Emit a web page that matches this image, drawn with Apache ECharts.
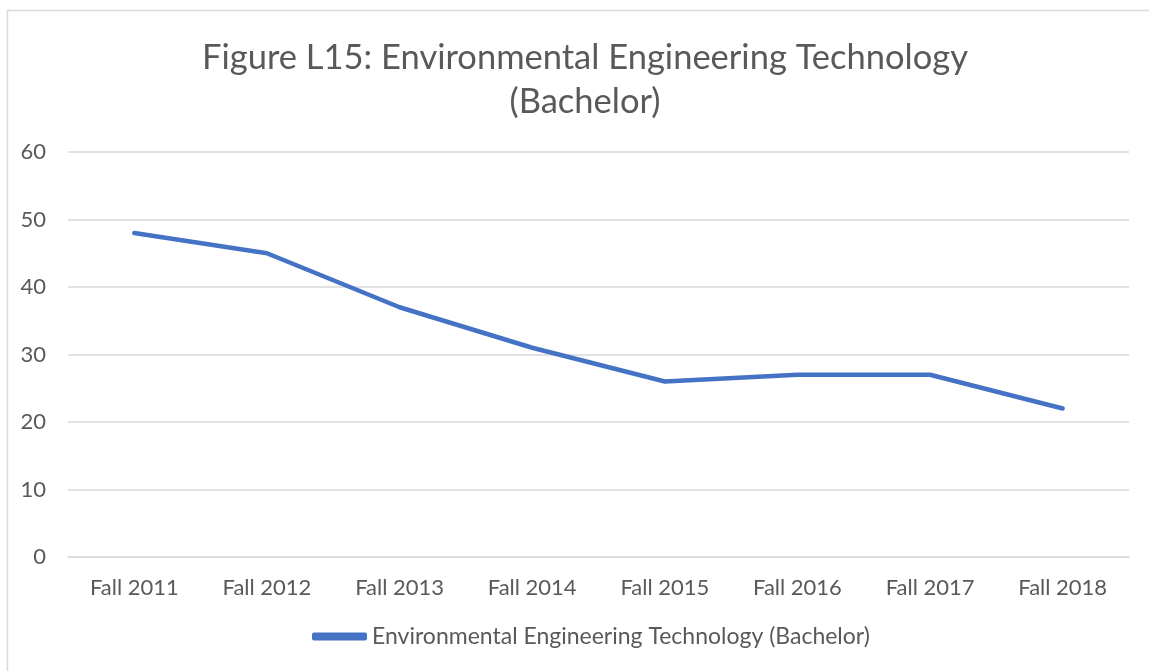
<!DOCTYPE html>
<html>
<head>
<meta charset="utf-8">
<script src="https://cdn.jsdelivr.net/npm/echarts@6/dist/echarts.min.js"></script>
<style>
    html, body { margin: 0; padding: 0; background: #fff; }
    #chart { width: 1149px; height: 671px; }
</style>
</head>
<body>
<div id="chart"></div>
<script>
var categories = ['Fall 2011', 'Fall 2012', 'Fall 2013', 'Fall 2014', 'Fall 2015', 'Fall 2016', 'Fall 2017', 'Fall 2018'];
var enrolment = [48, 45, 37, 31, 26, 27, 27, 22];
var seriesName = 'Environmental Engineering Technology (Bachelor)';

var chart = echarts.init(document.getElementById('chart'));
var option = {
    textStyle: { fontFamily: 'Lato' },
    graphic: [{
        type: 'rect',
        left: 5, top: 8,
        shape: { width: 1160, height: 680 },
        style: { fill: 'none', stroke: '#d9d9d9', lineWidth: 1.5 },
        silent: true
    }],
    title: {
        text: 'Figure L15: Environmental Engineering Technology\n(Bachelor)',
        left: 580,
        top: 31,
        textAlign: 'center',
        textStyle: {
            color: '#595959',
            fontSize: 34.5,
            fontWeight: 'normal',
            lineHeight: 44,
            fontFamily: 'Lato'
        }
    },
    legend: {
        bottom: 18,
        left: 307,
        itemWidth: 55,
        itemHeight: 8,
        icon: 'roundRect',
        textStyle: { color: '#595959', fontSize: 23, fontFamily: 'Lato' },
        data: [seriesName]
    },
    grid: { left: 68, right: 20, top: 152, bottom: 114 },
    xAxis: {
        type: 'category',
        data: categories,
        boundaryGap: true,
        axisLine: { lineStyle: { color: '#d9d9d9', width: 1.5 } },
        axisTick: { show: false },
        axisLabel: { color: '#595959', fontSize: 22, margin: 20, fontFamily: 'Lato' }
    },
    yAxis: {
        type: 'value',
        min: 0, max: 60, interval: 10,
        axisLine: { show: false },
        axisTick: { show: false },
        axisLabel: { color: '#595959', fontSize: 22, margin: 22, fontFamily: 'Lato' },
        splitLine: { lineStyle: { color: '#d9d9d9', width: 1.5 } }
    },
    series: [{
        name: seriesName,
        type: 'line',
        data: enrolment,
        symbol: 'none',
        lineStyle: { color: '#4472c4', width: 4.5, cap: 'round', join: 'round' },
        itemStyle: { color: '#4472c4' }
    }]
};
chart.setOption(option);
</script>
</body>
</html>
